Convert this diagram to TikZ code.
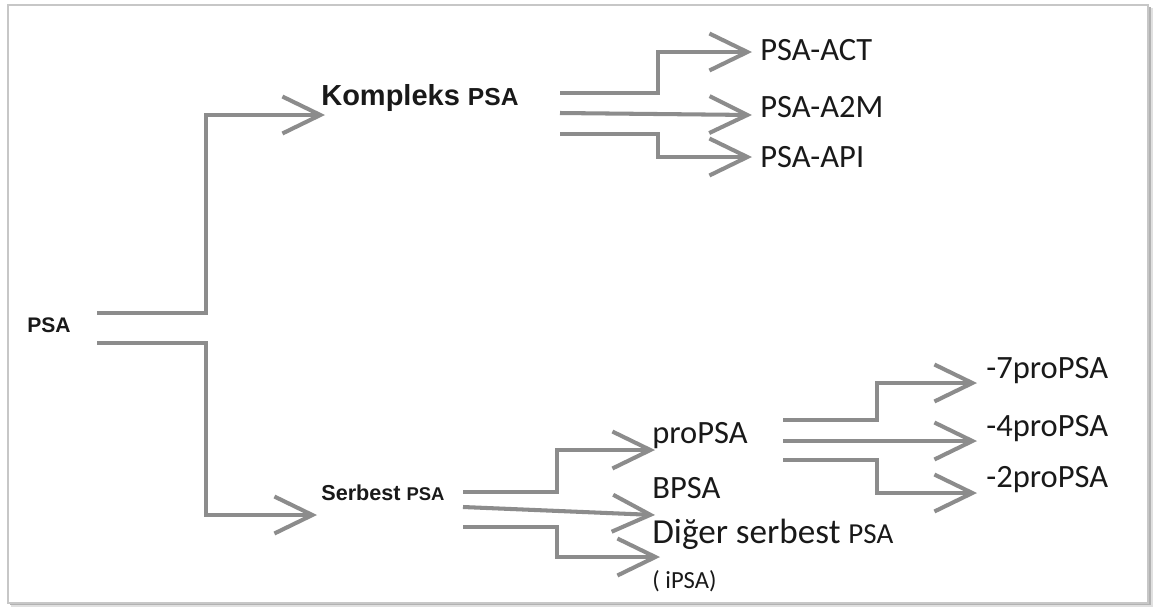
\documentclass[tikz,border=0pt]{standalone}
\usepackage{fontspec}
\setmainfont{Carlito}
\newfontfamily\arialfont{Liberation Sans}
\usetikzlibrary{arrows.meta,positioning}

\begin{document}
\begin{tikzpicture}[
  x=0.02cm, y=-0.02cm,
  every node/.style={anchor=base west, inner sep=0pt, text=black!90},
  head/.style={font=\arialfont\bfseries},
  lbl/.style={font=\fontsize{18.5}{21}\selectfont},
  arrow/.style={draw=black!45, line width=2.3pt, line join=miter,
    -{Straight Barb[length=7.6mm, width=7.4mm]}}
]
\useasboundingbox (0,0) rectangle (1153,613);

% frame with shadow
\fill[black!12] (11,8) rectangle (1153,607);
\fill[black!30] (10,7) rectangle (1151,605);
\draw[black!22, fill=white, line width=0.8pt] (8,5) rectangle (1148,603);

% main nodes
\node[head, font=\arialfont\bfseries\fontsize{12}{14}\selectfont] (psa) at (27,332) {PSA};
\node[head, font=\arialfont\bfseries\fontsize{16.5}{19}\selectfont] (kom) at (321,105)
  {Kompleks {\fontsize{14}{16}\selectfont PSA}};
\node[head, font=\arialfont\bfseries\fontsize{12.3}{14}\selectfont] (ser) at (321,500)
  {Serbest {\fontsize{10.5}{12}\selectfont PSA}};

% complex forms
\node[lbl] (act) at (760,60) {PSA-ACT};
\node[lbl] (a2m) at (760,117) {PSA-A2M};
\node[lbl] (api) at (760,167) {PSA-API};

% free forms
\node[lbl] (pro) at (652,443) {proPSA};
\node[lbl] (bpsa) at (652,498) {BPSA};
\node[lbl, font=\fontsize{20}{22}\selectfont] (dig) at (652,543)
  {Diğer serbest {\fontsize{16.5}{18}\selectfont PSA}};
\node[font=\fontsize{14}{16}\selectfont] (ipsa) at (652,588) {( iPSA)};

% proPSA forms
\node[lbl] (p7) at (986,378) {-7proPSA};
\node[lbl] (p4) at (986,436) {-4proPSA};
\node[lbl] (p2) at (986,487) {-2proPSA};

% connector starts
\coordinate (psa-a) at (97,313);
\coordinate (psa-b) at (97,343);
\coordinate (kom-a) at (560,93);
\coordinate (kom-b) at (560,113);
\coordinate (kom-c) at (560,134);
\coordinate (ser-a) at (463,492);
\coordinate (ser-b) at (463,507);
\coordinate (ser-c) at (463,527);
\coordinate (pro-a) at (783,420);
\coordinate (pro-b) at (783,441);
\coordinate (pro-c) at (783,460);

\draw[arrow] (psa-a) -- ++(109,0) |- ([shift={(4,10)}]kom.base west);
\draw[arrow] (psa-b) -- ++(109,0) |- ([shift={(-4,15)}]ser.base west);

\draw[arrow] (kom-a) -- ++(98,0) |- ([shift={(-8,-8)}]act.base west);
\draw[arrow] (kom-b) -- ([shift={(-8,-2)}]a2m.base west);
\draw[arrow] (kom-c) -- ++(98,0) |- ([shift={(-8,-10)}]api.base west);

\draw[arrow] (ser-a) -- ++(94,0) |- ([shift={(3,7)}]pro.base west);
\draw[arrow] (ser-b) -- ([shift={(3,17)}]bpsa.base west);
\draw[arrow] (ser-c) -- ++(94,0) |- ([shift={(8,14)}]dig.base west);

\draw[arrow] (pro-a) -- ++(94,0) |- ([shift={(-9,5)}]p7.base west);
\draw[arrow] (pro-b) -- ([shift={(-9,5)}]p4.base west);
\draw[arrow] (pro-c) -- ++(94,0) |- ([shift={(-9,6)}]p2.base west);

\end{tikzpicture}
\end{document}
